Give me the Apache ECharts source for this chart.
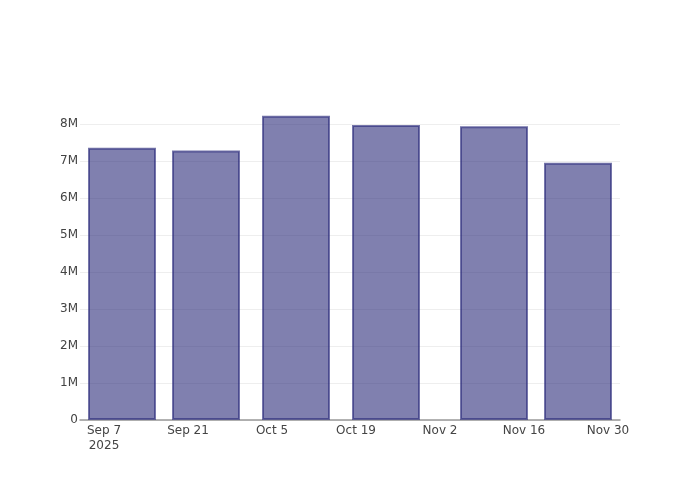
<!DOCTYPE html>
<html>
<head>
<meta charset="utf-8">
<script src="https://cdn.jsdelivr.net/npm/echarts@6/dist/echarts.min.js"></script>
<style>html,body{margin:0;padding:0;background:#fff}#c{width:700px;height:500px}</style>
</head>
<body>
<div id="c"></div>
<script>
var dates = ['2025-09-10','2025-09-24','2025-10-09','2025-10-24','2025-11-11','2025-11-25'];
var values = [7360000, 7280000, 8220000, 7970000, 7940000, 6950000];
var xTicks = ['2025-09-07','2025-09-21','2025-10-05','2025-10-19','2025-11-02','2025-11-16','2025-11-30'];
var xTickLabels = ['Sep 7\n2025','Sep 21','Oct 5','Oct 19','Nov 2','Nov 16','Nov 30'];
var yTicks = [0, 1000000, 2000000, 3000000, 4000000, 5000000, 6000000, 7000000, 8000000];
var xMin = '2025-09-03', xMax = '2025-12-02';
var yMax = 8648000;

function ts(s){ var p = s.split('-'); return Date.UTC(+p[0], +p[1]-1, +p[2]); }
var tickTs = xTicks.map(ts);
var labelMap = {};
tickTs.forEach(function(t,i){ labelMap[t] = xTickLabels[i]; });
var FONT = '"DejaVu Sans", verdana, arial, sans-serif';

var chart = echarts.init(document.getElementById('c'), null, {renderer:'canvas'});
chart.setOption({
  animation:false,
  backgroundColor:'#fff',
  textStyle:{fontFamily:FONT},
  grid:{left:80, right:80, top:100, bottom:80, containLabel:false},
  xAxis:{
    type:'value', min:ts(xMin), max:ts(xMax),
    axisLine:{show:true, lineStyle:{color:'#999', width:1.5}},
    axisTick:{show:false},
    splitLine:{show:false},
    axisLabel:{
      customValues:tickTs, color:'#444', fontSize:12, margin:3, lineHeight:15,
      fontFamily:FONT,
      formatter:function(v){ return labelMap[v] !== undefined ? labelMap[v] : ''; },
      hideOverlap:false
    }
  },
  yAxis:{
    type:'value', min:0, max:yMax, interval:1000000,
    axisLine:{show:false}, axisTick:{show:false, customValues:yTicks},
    splitLine:{show:true, lineStyle:{color:'#eee', width:1}},
    axisLabel:{customValues:yTicks, color:'#444', fontSize:12, margin:2,
      fontFamily:FONT,
      formatter:function(v){ return v===0 ? '0' : (v/1000000)+'M'; }}
  },
  series:[{
    type:'bar', barWidth:68,
    data: dates.map(function(d,i){ return [ts(d), values[i]]; }),
    itemStyle:{color:'rgba(43,43,122,0.6)', borderColor:'rgba(45,45,125,0.65)', borderWidth:2},
    z:1
  }]
});
</script>
</body>
</html>
